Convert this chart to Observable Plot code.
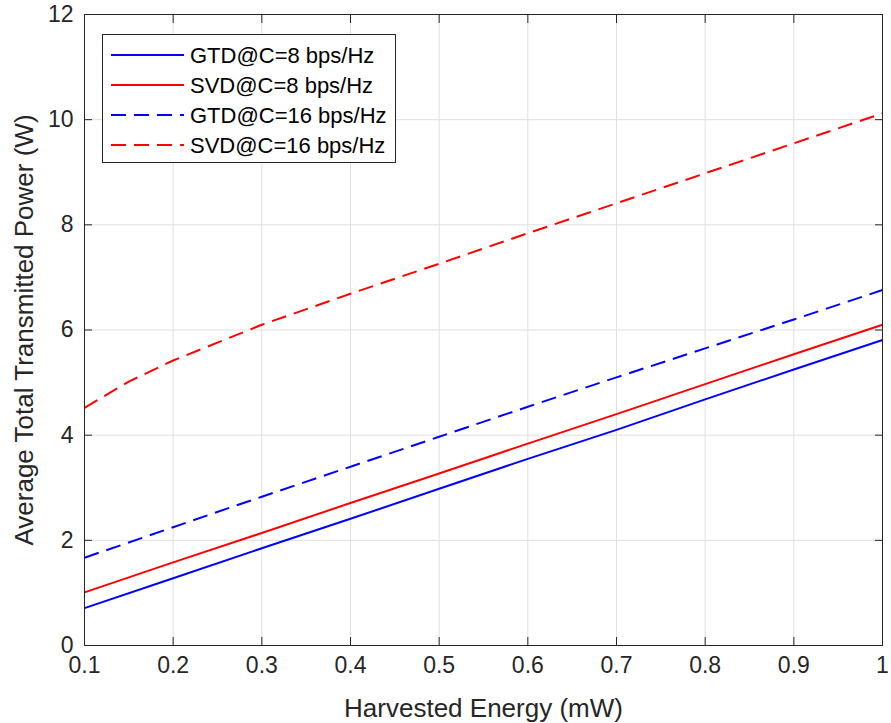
<!DOCTYPE html>
<html>
<head>
<meta charset="utf-8">
<script src="https://cdn.jsdelivr.net/npm/d3@7"></script>
<script src="https://cdn.jsdelivr.net/npm/@observablehq/plot@0.6"></script>
<style>
  html, body { margin: 0; padding: 0; background: #fff; }
  #wrap { position: relative; width: 891px; height: 723px; font-family: "Liberation Sans", Arial, Helvetica, sans-serif; }
  #legend { position: absolute; left: 102px; top: 34px; width: 294px; height: 129px; box-sizing: border-box;
            border: 1px solid #262626; background: #fff; }
  #legend svg { display: block; }
</style>
</head>
<body>
<div id="wrap"></div>
<script>
// ---- data ----
const xTicks = [0.1, 0.2, 0.3, 0.4, 0.5, 0.6, 0.7, 0.8, 0.9, 1];
const yTicks = [0, 2, 4, 6, 8, 10, 12];

const energy = [0.1, 0.2, 0.3, 0.4, 0.5, 0.6, 0.7, 0.8, 0.9, 1.0];
const gtd8  = [0.71, 1.28, 1.85, 2.41, 2.98, 3.55, 4.10, 4.68, 5.25, 5.81];
const svd8  = [1.01, 1.58, 2.14, 2.71, 3.27, 3.84, 4.40, 4.97, 5.54, 6.10];
const gtd16 = [1.67, 2.25, 2.83, 3.40, 3.97, 4.54, 5.10, 5.65, 6.20, 6.76];
const energy16 = [0.1, 0.15, 0.2, 0.3, 0.4, 0.5, 0.6, 0.7, 0.8, 0.9, 1.0];
const svd16 = [4.52, 5.02, 5.42, 6.10, 6.69, 7.26, 7.84, 8.41, 8.98, 9.55, 10.12];

const seriesNames = ["GTD@C=8 bps/Hz", "SVD@C=8 bps/Hz", "GTD@C=16 bps/Hz", "SVD@C=16 bps/Hz"];
const seriesColors = ["#0000ff", "#ff0000", "#0000ff", "#ff0000"];
const seriesDash = [null, null, "15,8", "15,8"];

const xLabel = "Harvested Energy (mW)";
const yLabel = "Average Total Transmitted Power (W)";

// ---- build ----
const toRows = (xs, ys) => xs.map((x, i) => ({x, y: ys[i]}));
const series = [
  toRows(energy, gtd8),
  toRows(energy, svd8),
  toRows(energy, gtd16),
  toRows(energy16, svd16)
];

const axisColor = "#262626";
const gridColor = "#dfdfdf";
const fmt = d => String(d);

const chart = Plot.plot({
  width: 891,
  height: 723,
  marginLeft: 84,
  marginRight: 9,
  marginTop: 14,
  marginBottom: 78,
  style: {fontFamily: '"Liberation Sans", Arial, Helvetica, sans-serif', background: "#fff", color: axisColor, overflow: "visible"},
  x: {domain: [0.1, 1], ticks: xTicks},
  y: {domain: [0, 12], ticks: yTicks},
  marks: [
    Plot.gridX(xTicks, {stroke: gridColor, strokeOpacity: 1, strokeWidth: 1}),
    Plot.gridY(yTicks, {stroke: gridColor, strokeOpacity: 1, strokeWidth: 1}),
    ...series.map((rows, i) => Plot.line(rows, {
      x: "x", y: "y", stroke: seriesColors[i], strokeWidth: 2,
      strokeDasharray: seriesDash[i], strokeLinecap: "butt", strokeLinejoin: "round"
    })),
    Plot.frame({stroke: axisColor, strokeWidth: 1}),
    // inward ticks on all four sides
    Plot.axisX(xTicks, {anchor: "bottom", tickSize: -8, text: null, stroke: axisColor, label: null}),
    Plot.axisX(xTicks, {anchor: "top", tickSize: -8, text: null, stroke: axisColor, label: null}),
    Plot.axisY(yTicks, {anchor: "left", tickSize: -8, text: null, stroke: axisColor, label: null}),
    Plot.axisY(yTicks, {anchor: "right", tickSize: -8, text: null, stroke: axisColor, label: null}),
    // tick labels
    Plot.axisX(xTicks, {anchor: "bottom", tickSize: 0, tickPadding: 11, tickFormat: fmt, fontSize: 23, fill: axisColor, label: null}),
    Plot.axisY(yTicks, {anchor: "left", tickSize: 0, tickPadding: 11, tickFormat: fmt, fontSize: 23, fill: axisColor, label: null}),
    // axis titles
    Plot.text([xLabel], {text: d => d, frameAnchor: "bottom", dy: 63, fontSize: 26, fill: axisColor, lineAnchor: "middle", textAnchor: "middle"}),
    Plot.text([yLabel], {text: d => d, frameAnchor: "left", dx: -60, rotate: -90, fontSize: 26, fill: axisColor, lineAnchor: "middle", textAnchor: "middle"})
  ]
});

const wrap = document.getElementById("wrap");
wrap.appendChild(chart);

// ---- legend ----
const legend = document.createElement("div");
legend.id = "legend";
const ns = "http://www.w3.org/2000/svg";
const lsvg = document.createElementNS(ns, "svg");
lsvg.setAttribute("width", 292);
lsvg.setAttribute("height", 127);
seriesNames.forEach((name, i) => {
  const cy = 20 + i * 30;
  const line = document.createElementNS(ns, "line");
  line.setAttribute("x1", 8); line.setAttribute("x2", 81);
  line.setAttribute("y1", cy); line.setAttribute("y2", cy);
  line.setAttribute("stroke", seriesColors[i]);
  line.setAttribute("stroke-width", 2);
  if (seriesDash[i]) line.setAttribute("stroke-dasharray", seriesDash[i]);
  lsvg.appendChild(line);
  const t = document.createElementNS(ns, "text");
  t.setAttribute("x", 87);
  t.setAttribute("y", cy + 7.8);
  t.setAttribute("font-size", 22);
  t.setAttribute("fill", "#000");
  t.setAttribute("font-family", '"Liberation Sans", Arial, Helvetica, sans-serif');
  t.textContent = name;
  lsvg.appendChild(t);
});
legend.appendChild(lsvg);
wrap.appendChild(legend);
</script>
</body>
</html>
